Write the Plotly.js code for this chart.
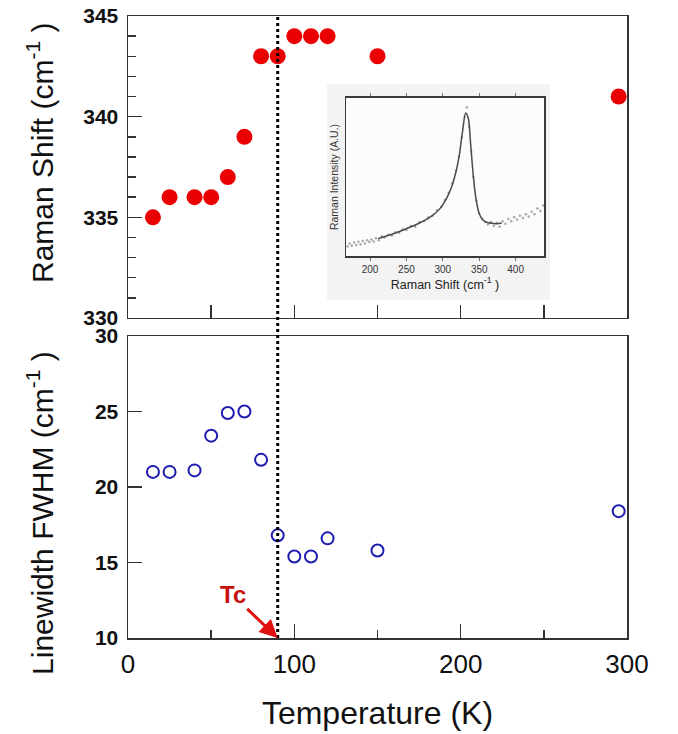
<!DOCTYPE html>
<html>
<head>
<meta charset="utf-8">
<script src="https://cdn.plot.ly/plotly-3.0.1.min.js"></script>
<style>html,body{margin:0;padding:0;background:#fff;}#chart{width:678px;height:734px;}</style>
</head>
<body>
<div id="chart"></div>
<script>
// ---- Data ----
const T_SHIFT = [15, 25, 40, 50, 60, 70, 80, 90, 100, 110, 120, 150, 295];
const SHIFT   = [335, 336, 336, 336, 337, 339, 343, 343, 344, 344, 344, 343, 341];

const T_FWHM = [15, 25, 40, 50, 60, 70, 80, 90, 100, 110, 120, 150, 295];
const FWHM   = [21.0, 21.0, 21.1, 23.4, 24.9, 25.0, 21.8, 16.8, 15.4, 15.4, 16.6, 15.8, 18.4];

const TC = 90;

// inset spectrum: measured points and fitted curve (normalised intensity)
const SPEC_X = [169,172,175,178,181,184,187,190,193,196,199,202,205,208,212,216,220,225,230,235,240,245,250,256,262,268,274,280,286,292,298,303,308,313,318,322,326,330,333,336,339,342,346,350,354,358,362,366,370,374,378,382,386,390,394,398,402,406,410,414,418,422,426,430,434,438];
const SPEC_Y = [0.06,0.08,0.065,0.085,0.07,0.09,0.075,0.095,0.08,0.10,0.088,0.105,0.092,0.112,0.10,0.125,0.118,0.135,0.13,0.15,0.148,0.17,0.165,0.19,0.185,0.215,0.22,0.245,0.255,0.29,0.31,0.355,0.40,0.46,0.54,0.63,0.75,0.88,0.94,0.82,0.66,0.50,0.35,0.27,0.235,0.215,0.20,0.215,0.19,0.21,0.185,0.22,0.205,0.235,0.22,0.245,0.23,0.255,0.24,0.265,0.25,0.28,0.265,0.30,0.285,0.32];
const FIT_X = [211,232,250,268,284,296,305,312,318,322.6,327,331.5,335,338,341.8,345.5,350,355.5,362,374,381];
const FIT_Y = [0.11,0.141,0.173,0.209,0.251,0.30,0.363,0.437,0.532,0.637,0.785,0.905,0.87,0.72,0.51,0.363,0.268,0.226,0.21,0.205,0.209];

// axes
const X_RANGE = [0, 300];
const X_TICKS_TOP = [50, 100, 150, 200, 250];
const X_TICKS = [0, 100, 200, 300];
const X_MINOR = [50, 150, 250];
const Y1_RANGE = [330, 345];
const Y1_TICKS = [330, 335, 340, 345];
const Y2_RANGE = [10, 30];
const Y2_TICKS = [10, 15, 20, 25, 30];
const INSET_X_RANGE = [167, 439];
const INSET_X_TICKS = [200, 250, 300, 350, 400];
const INSET_Y_RANGE = [0, 1];

const FONT = 'Liberation Sans, Arial, Helvetica, sans-serif';
const AX = '#333333';

const traces = [
  {x: T_SHIFT, y: SHIFT, xaxis: 'x', yaxis: 'y', type: 'scatter', mode: 'markers',
   marker: {color: '#ea0000', size: 16, line: {width: 0}}, cliponaxis: false},
  {x: T_FWHM, y: FWHM, xaxis: 'x2', yaxis: 'y2', type: 'scatter', mode: 'markers',
   marker: {symbol: 'circle-open', color: '#1c1cb0', size: 12, line: {width: 2, color: '#1c1cb0'}}, cliponaxis: false},
  {x: SPEC_X, y: SPEC_Y, xaxis: 'x3', yaxis: 'y3', type: 'scatter', mode: 'markers',
   marker: {color: '#a8a8a8', size: 2.5}},
  {x: FIT_X, y: FIT_Y, xaxis: 'x3', yaxis: 'y3', type: 'scatter', mode: 'lines',
   line: {color: '#4a4a4a', width: 1.5, shape: 'spline'}}
];

const baseAxis = {showline: true, linecolor: AX, linewidth: 1.5, mirror: true, showgrid: false, zeroline: false,
  ticks: 'inside', tickcolor: AX, tickwidth: 1.5};

const layout = {
  width: 678, height: 734,
  margin: {l: 128, r: 51, t: 16, b: 96},
  paper_bgcolor: '#ffffff', plot_bgcolor: 'rgba(0,0,0,0)',
  showlegend: false,
  font: {family: FONT, color: '#111'},
  xaxis: Object.assign({}, baseAxis, {domain: [0, 1], anchor: 'y', range: X_RANGE,
    tickmode: 'array', tickvals: X_TICKS_TOP, ticklen: 13, showticklabels: false}),
  yaxis: Object.assign({}, baseAxis, {domain: [0.5145, 1], anchor: 'x', range: Y1_RANGE,
    tickmode: 'array', tickvals: Y1_TICKS, ticklen: 14, ticklabelstandoff: 4,
    tickfont: {family: FONT, size: 21, weight: 'bold', color: '#111'},
    minor: {dtick: 1, ticklen: 8, ticks: 'inside', tickcolor: AX, tickwidth: 1.5}}),
  xaxis2: Object.assign({}, baseAxis, {domain: [0, 1], anchor: 'y2', range: X_RANGE,
    tickmode: 'array', tickvals: X_TICKS, ticklen: 14, ticklabelstandoff: 2,
    tickfont: {family: FONT, size: 26, color: '#111'},
    minor: {tickvals: X_MINOR, ticklen: 8, ticks: 'inside', tickcolor: AX, tickwidth: 1.5},
    title: {text: 'Temperature (K)', font: {family: FONT, size: 32, color: '#111'}, standoff: 24}}),
  yaxis2: Object.assign({}, baseAxis, {domain: [0, 0.4855], anchor: 'x2', range: Y2_RANGE,
    tickmode: 'array', tickvals: Y2_TICKS, ticklen: 14, ticklabelstandoff: 4,
    tickfont: {family: FONT, size: 21, weight: 'bold', color: '#111'}}),
  xaxis3: {domain: [0.4369, 0.8337], anchor: 'y3', range: INSET_X_RANGE,
    showline: true, linecolor: '#3a3a3a', linewidth: 1.5, mirror: 'ticks', showgrid: false, zeroline: false,
    ticks: 'outside', ticklen: 3, tickcolor: '#777', tickwidth: 1,
    tickmode: 'array', tickvals: INSET_X_TICKS,
    tickfont: {family: FONT, size: 10, color: '#333'},
    title: {text: 'Raman Shift (cm<sup>-1</sup> )', font: {family: FONT, size: 12.5, color: '#222'}, standoff: 6}},
  yaxis3: {domain: [0.6141, 0.8682], anchor: 'x3', range: INSET_Y_RANGE,
    showline: true, linecolor: '#3a3a3a', linewidth: 1.5, mirror: true, showgrid: false, zeroline: false,
    ticks: '', showticklabels: false,
    title: {text: 'Raman Intensity (A.U.)', font: {family: FONT, size: 10.5, color: '#333'}, standoff: 4}},
  shapes: [
    {type: 'rect', xref: 'paper', yref: 'paper', x0: 0.3988, x1: 0.8457, y0: 0.5434, y1: 0.8907,
     fillcolor: '#f3f3f3', line: {width: 0}, layer: 'below'},
    {type: 'rect', xref: 'x3 domain', yref: 'y3 domain', x0: 0, x1: 1, y0: 0, y1: 1,
     fillcolor: '#fcfcfc', line: {width: 0}, layer: 'below'},
    {type: 'line', xref: 'x', yref: 'paper', x0: TC, x1: TC, y0: 0, y1: 1,
     line: {color: '#000', width: 3, dash: 'dot'}}
  ],
  annotations: [
    {xref: 'paper', yref: 'paper', x: -0.1764, y: 0.7797, text: 'Raman Shift (cm<sup>-1</sup> )',
     textangle: -90, showarrow: false, font: {family: FONT, size: 30, color: '#111'}, xanchor: 'center', yanchor: 'middle'},
    {xref: 'paper', yref: 'paper', x: -0.1764, y: 0.201, text: 'Linewidth FWHM (cm<sup>-1</sup> )',
     textangle: -90, showarrow: false, font: {family: FONT, size: 30, color: '#111'}, xanchor: 'center', yanchor: 'middle'},
    {xref: 'x2', yref: 'y2', x: TC, y: Y2_RANGE[0], text: 'Tc', showarrow: true,
     ax: -45, ay: -43, arrowcolor: '#e01010', arrowwidth: 3, arrowhead: 2, arrowsize: 1.2, standoff: 0,
     font: {family: FONT, size: 24, weight: 'bold', color: '#c81010'}}
  ]
};

Plotly.newPlot('chart', traces, layout, {displayModeBar: false, staticPlot: true});
</script>
</body>
</html>
